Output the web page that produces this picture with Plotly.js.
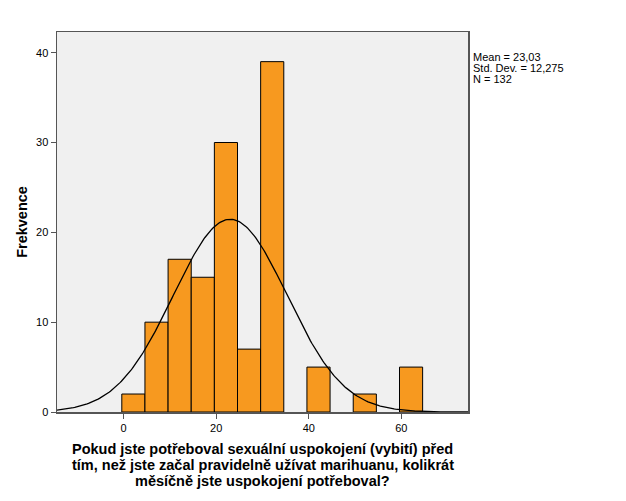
<!DOCTYPE html>
<html>
<head>
<meta charset="utf-8">
<script src="https://cdn.plot.ly/plotly-3.0.1.min.js"></script>
<style>html,body{margin:0;padding:0;background:#fff;}#chart{width:626px;height:501px;}</style>
</head>
<body>
<div id="chart"></div>
<script>
// Histogram bins (left edges) and counts
const binLefts = [-0.4, 4.6, 9.6, 14.6, 19.6, 24.6, 29.6, 39.6, 49.6, 59.6];
const counts   = [2, 10, 17, 15, 30, 7, 39, 5, 2, 5];
const binWidth = 5;
// Summary statistics shown on the chart
const statMean = 23.03;
const statSd = 12.275;
const statN = 132;
const xTicks = [0, 20, 40, 60];
const yTicks = [0, 10, 20, 30, 40];
const xRange = [-14.4, 74.4];
const yRange = [0, 42.3];
const xTitleLines = [
  'Pokud jste potřeboval sexuální uspokojení (vybití) před',
  'tím, než jste začal pravidelně užívat marihuanu, kolikrát',
  'měsíčně jste uspokojení potřeboval?'
];
const statLines = [
  'Mean = ' + statMean.toFixed(2).replace('.', ','),
  'Std. Dev. = ' + statSd.toFixed(3).replace('.', ','),
  'N = ' + statN
];

// Normal curve defined by the stated mean / std. dev. / N
const curveX = [], curveY = [];
const steps = 300;
for (let i = 0; i <= steps; i++) {
  const x = xRange[0] + (xRange[1] - xRange[0]) * i / steps;
  const z = (x - statMean) / statSd;
  curveX.push(x);
  curveY.push(statN * binWidth * Math.exp(-0.5 * z * z) / (statSd * Math.sqrt(2 * Math.PI)));
}

const font = 'Liberation Sans, Arial, sans-serif';
const data = [
  {
    type: 'bar',
    x: binLefts,
    y: counts,
    width: binWidth,
    offset: 0,
    marker: {color: '#F7991F', line: {color: '#000', width: 1}},
    hoverinfo: 'skip'
  },
  {
    type: 'scatter',
    mode: 'lines',
    x: curveX,
    y: curveY,
    line: {color: '#000', width: 1.3},
    hoverinfo: 'skip'
  }
];

const annotations = [];
const titleShifts = [-37, -53, -69];
xTitleLines.forEach((t, i) => annotations.push({
  xref: 'paper', yref: 'paper', x: 0.5, y: 0,
  xanchor: 'center', yanchor: 'middle', yshift: titleShifts[i],
  showarrow: false, text: '<b>' + t + '</b>',
  font: {family: font, size: 14.5, color: '#000'}
}));
statLines.forEach((t, i) => annotations.push({
  xref: 'paper', yref: 'paper', x: 1, y: 1,
  xanchor: 'left', yanchor: 'middle', xshift: 3, yshift: -25.3 - 11 * i,
  align: 'left', showarrow: false, text: t,
  font: {family: font, size: 11, color: '#000'}
}));

const layout = {
  width: 626, height: 501,
  margin: {l: 57, r: 158, t: 32, b: 89},
  paper_bgcolor: '#fff',
  plot_bgcolor: '#F0F0F0',
  showlegend: false,
  font: {family: font, size: 11, color: '#000'},
  xaxis: {
    range: xRange,
    tickvals: xTicks,
    ticktext: xTicks.map(String),
    ticks: 'outside', ticklen: 5, tickcolor: '#555', tickwidth: 1,
    showgrid: false, zeroline: false,
    showline: true, mirror: true, linecolor: '#555', linewidth: 1.5,
    tickfont: {family: font, size: 11, color: '#000'}
  },
  yaxis: {
    range: yRange,
    tickvals: yTicks,
    ticktext: yTicks.map(String),
    ticks: 'outside', ticklen: 5, tickcolor: '#555', tickwidth: 1,
    showgrid: false, zeroline: false,
    showline: true, mirror: true, linecolor: '#555', linewidth: 1.5,
    tickfont: {family: font, size: 11, color: '#000'},
    title: {
      text: '<b>Frekvence</b>',
      font: {family: font, size: 14.5, color: '#000'},
      standoff: 5
    }
  },
  bargap: 0,
  annotations: annotations
};

Plotly.newPlot('chart', data, layout, {displayModeBar: false, staticPlot: true});
</script>
</body>
</html>
